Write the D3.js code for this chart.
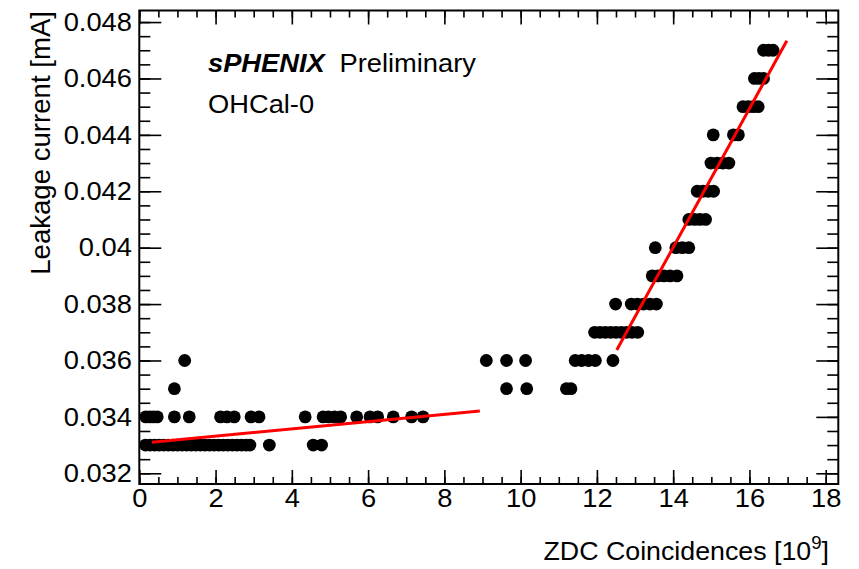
<!DOCTYPE html>
<html>
<head>
<meta charset="utf-8">
<script src="https://cdn.jsdelivr.net/npm/d3@7"></script>
<style>
    html, body { margin: 0; padding: 0; background: #fff; }
    svg text { font-family: "Liberation Sans", Arial, Helvetica, sans-serif; fill: #000; }
</style>
</head>
<body>
<div id="chart"></div>
<script>
// Leakage current levels [mA] (the readout is quantised in 0.001 mA steps)
const levels = [0.033, 0.034, 0.035, 0.036, 0.037, 0.038, 0.039, 0.040,
                0.041, 0.042, 0.043, 0.044, 0.045, 0.046, 0.047];

// ZDC coincidences [10^9] of the measurements, one list per current level
const coincidences = [
    [0.16, 0.28, 0.40, 0.52, 0.64, 0.76, 0.88, 1.00, 1.12, 1.24, 1.36, 1.48, 1.60, 1.72,
     1.84, 1.96, 2.08, 2.20, 2.32, 2.44, 2.56, 2.68, 2.80, 2.90, 3.41, 4.56, 4.78],
    [0.17, 0.27, 0.37, 0.47, 0.92, 1.31, 2.13, 2.30, 2.49, 2.93, 3.14, 4.35, 4.82, 4.96,
     5.12, 5.28, 5.70, 6.05, 6.25, 6.66, 7.14, 7.44],
    [0.92, 9.63, 10.16, 11.20, 11.32],
    [1.19, 9.10, 9.63, 10.13, 11.43, 11.60, 11.78, 11.96, 12.42],
    [11.94, 12.08, 12.22, 12.36, 12.50, 12.64, 12.78, 12.92, 13.07],
    [12.49, 12.90, 13.06, 13.22, 13.39, 13.56],
    [13.45, 13.60, 13.76, 13.92, 14.10],
    [13.53, 14.07, 14.24, 14.41],
    [14.41, 14.56, 14.70, 14.85],
    [14.63, 14.78, 14.92, 15.06],
    [14.99, 15.15, 15.30, 15.46],
    [15.05, 15.58, 15.71],
    [15.83, 15.97, 16.10, 16.23],
    [16.13, 16.25, 16.37],
    [16.37, 16.50, 16.62]
];

// Linear fits (end points)
const fitLowX  = [0.33, 8.93];
const fitLowY  = [0.03310, 0.03421];
const fitHighX = [12.52, 16.98];
const fitHighY = [0.03637, 0.04734];

// Axis ticks
const xMajorTicks = d3.range(0, 18.01, 2);
const xMinorTicks = d3.range(0, 18.3, 0.5);
const yMajorTicks = [0.032, 0.034, 0.036, 0.038, 0.040, 0.042, 0.044, 0.046, 0.048];
const yMinorTicks = d3.range(0.0320, 0.04801, 0.0005);

const WIDTH   = 859;
const HEIGHT  = 569;
const FRAME   = {left: 139.3, right: 838.3, top: 10.5, bottom: 484};
const FONT    = 26;
const STRETCH = 1.05;   // text in the reference is slightly wider than tall

const svg = d3.select("#chart")
    .append("svg")
    .attr("width", WIDTH)
    .attr("height", HEIGHT);

const x = d3.scaleLinear()
    .domain([0, 18.33])
    .range([FRAME.left, FRAME.right]);

const y = d3.scaleLinear()
    .domain([0.03162, 0.04841])
    .range([FRAME.bottom, FRAME.top]);

const frameW = FRAME.right - FRAME.left;
const frameH = FRAME.bottom - FRAME.top;

/**
 * Draws one set of ticks (no domain line) on a given side of the frame.
 */
function drawTicks(axis, translate, labels)
{
    const g = svg.append("g")
        .attr("transform", translate)
        .call(axis);

    g.select(".domain").remove();
    g.selectAll(".tick line").attr("stroke", "#000").attr("stroke-width", 1.6);

    if (!labels) {
        g.selectAll(".tick text").remove();
    } else {
        g.selectAll(".tick text")
            .attr("font-size", FONT)
            .attr("font-family", null)
            .attr("fill", "#000")
            .attr("transform", "scale(" + STRETCH + ",1)");
    }
    return g;
}

const yFormat = (d) => String(+d.toFixed(3));

// Left / right axes
drawTicks(d3.axisLeft(y).tickValues(yMajorTicks).tickSize(-22).tickPadding(7).tickFormat(yFormat),
    "translate(" + FRAME.left + ",0)", true);
drawTicks(d3.axisLeft(y).tickValues(yMinorTicks).tickSize(-11),
    "translate(" + FRAME.left + ",0)", false);
drawTicks(d3.axisRight(y).tickValues(yMajorTicks).tickSize(-22),
    "translate(" + FRAME.right + ",0)", false);
drawTicks(d3.axisRight(y).tickValues(yMinorTicks).tickSize(-11),
    "translate(" + FRAME.right + ",0)", false);

// Bottom / top axes
drawTicks(d3.axisBottom(x).tickValues(xMajorTicks).tickSize(-14).tickPadding(5).tickFormat(d3.format("d")),
    "translate(0," + FRAME.bottom + ")", true);
drawTicks(d3.axisBottom(x).tickValues(xMinorTicks).tickSize(-7),
    "translate(0," + FRAME.bottom + ")", false);
drawTicks(d3.axisTop(x).tickValues(xMajorTicks).tickSize(-14),
    "translate(0," + FRAME.top + ")", false);
drawTicks(d3.axisTop(x).tickValues(xMinorTicks).tickSize(-7),
    "translate(0," + FRAME.top + ")", false);

// Frame
svg.append("rect")
    .attr("x", FRAME.left)
    .attr("y", FRAME.top)
    .attr("width", frameW)
    .attr("height", frameH)
    .attr("fill", "none")
    .attr("stroke", "#000")
    .attr("stroke-width", 2);

// Flatten the measurements into points
const points = levels.flatMap((level, i) => coincidences[i].map((c) => ({x: c, y: level})));

svg.append("g")
    .selectAll("circle")
    .data(points)
    .join("circle")
    .attr("cx", (d) => x(d.x))
    .attr("cy", (d) => y(d.y))
    .attr("r", 6.4)
    .attr("fill", "#000");

// Fit lines
const line = d3.line().x((d) => x(d[0])).y((d) => y(d[1]));

[[fitLowX, fitLowY], [fitHighX, fitHighY]].forEach(([fx, fy]) => {
    svg.append("path")
        .attr("d", line(d3.zip(fx, fy)))
        .attr("fill", "none")
        .attr("stroke", "#ff0000")
        .attr("stroke-width", 3);
});

/**
 * Appends a text group at the given position, stretched like the reference.
 */
function label(px, py, extra, stretch)
{
    const s = stretch || STRETCH;
    return svg.append("g")
        .attr("transform", "translate(" + px + "," + py + ") scale(" + s + ",1)" + (extra || ""))
        .append("text")
        .attr("font-size", FONT);
}

// Axis titles
const xTitle = label(829, 560, "", 1.03).attr("text-anchor", "end");
xTitle.append("tspan").text("ZDC Coincidences [10");
xTitle.append("tspan").attr("font-size", 18).attr("dy", -11).text("9");
xTitle.append("tspan").attr("dy", 11).text("]");

label(50, 11, " rotate(-90)", 1.0)
    .attr("font-size", 27.6)
    .attr("text-anchor", "end")
    .text("Leakage current [mA]");

// Labels inside the frame
const head = label(208, 72);
head.append("tspan").attr("font-weight", "bold").attr("font-style", "italic").text("sPHENIX");
head.append("tspan").attr("dx", 14).text("Preliminary");

label(208, 113).text("OHCal-0");
</script>
</body>
</html>
